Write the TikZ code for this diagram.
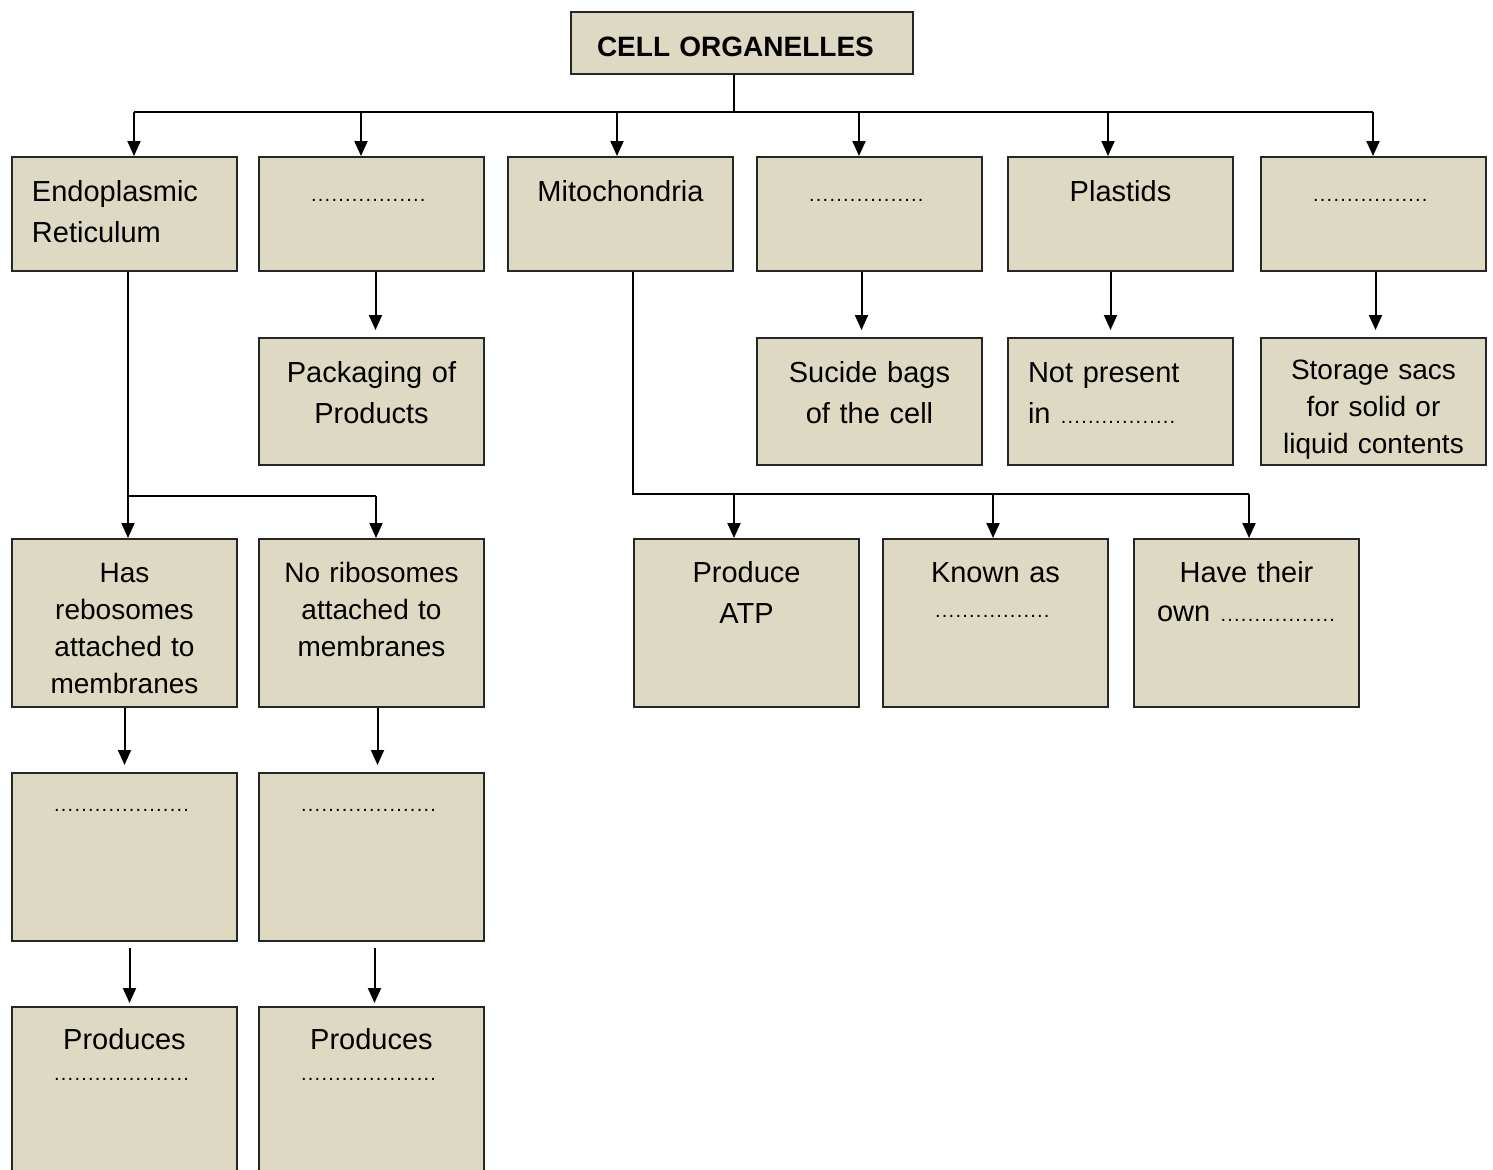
\documentclass[tikz,border=0pt]{standalone}
\usepackage{fontspec}
\setmainfont{Liberation Sans}
\usetikzlibrary{arrows.meta}
\definecolor{boxfill}{RGB}{221,217,195}
\newcommand{\dotgap}[1]{\leavevmode{\fontsize{10}{10}\selectfont\hbox to #1{\leaders\hbox to 3.4pt{\hss.\hss}\hfill}}}

\begin{document}
\begin{tikzpicture}[x=0.5pt, y=-0.5pt,
  box/.style={draw=black!85, fill=boxfill, line width=1pt, anchor=north west,
    inner xsep=10pt, inner ysep=0pt, text width=92.5pt, align=center,
    font=\fontsize{14.5}{20.5}\selectfont},
  rowa/.style={text height=22pt, text depth=35pt},
  rowb/.style={text height=22pt, text depth=41.5pt},
  rowc/.style={text height=21.5pt, text depth=62.5pt},
  rowd/.style={text height=19pt, text depth=65pt},
  rowe/.style={text height=21pt, text depth=63pt},
  small/.style={font=\fontsize{14}{18.5}\selectfont},
  link/.style={line width=1pt},
  arr/.style={line width=1pt, -{Triangle[length=7.5pt,width=6.5pt]}}]
\useasboundingbox (0,0) rectangle (1493,1169);
\clip (0,0) rectangle (1493,1169);
%
\node[box, text height=22pt, text depth=9pt, text width=145pt, inner xsep=13pt,
  align=left, font=\fontsize{14}{17}\selectfont\bfseries] (title) at (570,11) {CELL ORGANELLES};
%
\node[box, rowa, align=left] (er) at (11,156) {Endoplasmic\\Reticulum};
\node[box, rowa] (gb) at (258,156) {\dotgap{61pt}};
\node[box, rowa] (mt) at (507,156) {Mitochondria};
\node[box, rowa] (ly) at (756,156) {\dotgap{61pt}};
\node[box, rowa] (pl) at (1007,156) {Plastids};
\node[box, rowa] (vc) at (1260,156) {\dotgap{61pt}};
%
\node[box, rowb] (pk) at (258,337) {Packaging of\\Products};
\node[box, rowb] (sb) at (756,337) {Sucide bags\\of the cell};
\node[box, rowb, align=left] (np) at (1007,337) {Not present\\in \dotgap{61pt}};
\node[box, small, text height=20.5pt, text depth=43pt] (ss) at (1260,337) {Storage sacs\\for solid or\\liquid contents};
%
\node[box, rowc, small] (hr) at (11,538) {Has\\rebosomes\\attached to\\membranes};
\node[box, rowc, small] (nr) at (258,538) {No ribosomes\\attached to\\membranes};
\node[box, rowc] (atp) at (633,538) {Produce\\ATP};
\node[box, rowc] (ka) at (882,538) {Known as\\[-3pt]\dotgap{61pt}};
\node[box, rowc, font=\fontsize{14.5}{19.5}\selectfont] (ho) at (1133,538) {Have their\\own \dotgap{58pt}};
%
\node[box, rowd] (ra) at (11,772) {\dotgap{71pt}};
\node[box, rowd] (rb) at (258,772) {\dotgap{71pt}};
%
\node[box, rowe] (proda) at (11,1006) {Produces\\[-5pt]\dotgap{71pt}};
\node[box, rowe] (prodb) at (258,1006) {Produces\\[-5pt]\dotgap{71pt}};
%
% main bus
\coordinate (bus) at (734,112);
\coordinate (t1) at (134,112);
\coordinate (t2) at (361,112);
\coordinate (t3) at (617,112);
\coordinate (t4) at (859,112);
\coordinate (t5) at (1108,112);
\coordinate (t6) at (1373,112);
\draw[link] (title.south -| bus) -- (bus);
\draw[link] (t1) -- (t6);
\foreach \c/\n in {t1/er, t2/gb, t3/mt, t4/ly, t5/pl, t6/vc}
  \draw[arr] (\c) -- (\c |- \n.north);
%
\foreach \a/\b/\s in {gb/pk/2pt, ly/sb/-4pt, pl/np/-5pt, vc/ss/1pt}
  \draw[arr, shorten >=3.5pt] ([xshift=\s]\a.south) -- ([xshift=\s]\b.north);
%
% endoplasmic reticulum
\coordinate (erj) at (128,496);
\coordinate (erk) at (376,496);
\draw[link] (er.south -| erj) -- (erj) -- (erk);
\draw[arr] (erj) -- (erj |- hr.north);
\draw[arr] (erk) -- (erk |- nr.north);
\draw[arr, shorten >=3.5pt] (hr.south) -- (ra.north);
\draw[arr, shorten >=3.5pt] ([xshift=3pt]nr.south) -- ([xshift=3pt]rb.north);
\draw[arr, shorten <=3pt, shorten >=1.5pt] ([xshift=2.5pt]ra.south) -- ([xshift=2.5pt]proda.north);
\draw[arr, shorten <=3pt, shorten >=1.5pt] ([xshift=1.5pt]rb.south) -- ([xshift=1.5pt]prodb.north);
%
% mitochondria
\coordinate (mj) at (633,494);
\coordinate (m1) at (734,494);
\coordinate (m2) at (993,494);
\coordinate (m3) at (1249,494);
\draw[link] (mt.south -| mj) -- (mj) -- (m3);
\foreach \c/\n in {m1/atp, m2/ka, m3/ho}
  \draw[arr] (\c) -- (\c |- \n.north);
\end{tikzpicture}
\end{document}
